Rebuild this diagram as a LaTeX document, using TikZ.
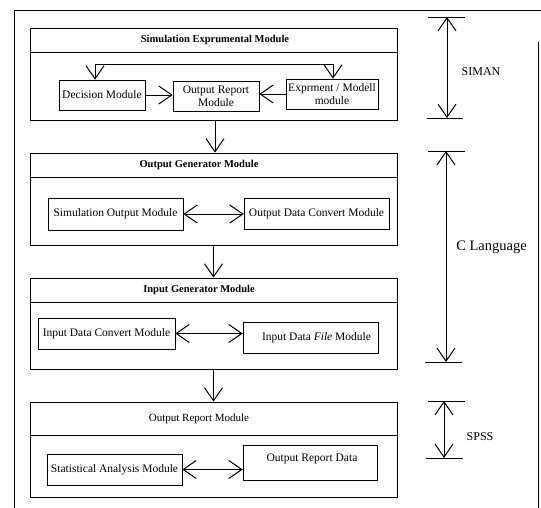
\documentclass[tikz,border=0pt]{standalone}
\usepackage{fontspec}
\setmainfont{Liberation Serif}
\usetikzlibrary{arrows.meta}
\tikzset{
  modbox/.style={draw, line width=0.8pt, minimum width=367pt, inner sep=0pt},
  ibox/.style={draw, line width=0.7pt, inner sep=0pt, align=center, font=\fontsize{11.5}{13}\selectfont},
  ttl/.style={inner sep=0pt, font=\fontsize{10.5}{12}\selectfont\bfseries},
  ttlr/.style={inner sep=0pt, font=\fontsize{11}{12}\selectfont},
  lbl/.style={inner sep=0pt, font=\fontsize{12}{14}\selectfont},
  tip/.tip={Straight Barb[length=13pt,width=18pt,line width=1pt]},
  arr/.style={line width=0.7pt, -tip},
  darr/.style={line width=0.7pt, tip-tip},
  bar/.style={line width=0.8pt},
  frame/.style={line width=0.7pt}
}
\begin{document}
\begin{tikzpicture}[x=1pt,y=-1pt]
\useasboundingbox (0,0) rectangle (541,508);
% outer frame
\coordinate (f1) at (14,508);
\coordinate (f2) at (14,10);
\coordinate (f3) at (541,10);
\coordinate (f4) at (538,42);
\coordinate (f5) at (538,508);
\draw[frame] (f1) -- (f2) -- (f3);
\draw[frame] (f4) -- (f5);

% ---- Module 1
\node[modbox, minimum height=92pt] (m1) at (213.5,74) {};
\draw[line width=0.8pt] (m1.west |- 0,52) -- (m1.east |- 0,52);
\node[ttl] (t1) at (215,40) {Simulation Exprumental Module};
\node[ibox, minimum width=86pt, minimum height=30pt] (dec) at (102,95) {Decision Module};
\node[ibox, minimum width=86pt, minimum height=30pt] (orm) at (216,96) {Output Report\\Module};
\node[ibox, minimum width=92pt, minimum height=30pt] (exp) at (332,94) {Exprment / Modell\\module};
\draw[arr] (dec.east) -- (dec.east -| orm.west);
\draw[arr] (exp.west) -- (exp.west -| orm.east);
\coordinate (fbl) at (95,64);
\coordinate (fbr) at (333,64);
\draw[darr] ([xshift=-7pt]dec.north) -- (fbl) -- (fbr) -- (fbr |- exp.north);

% ---- Module 2
\node[modbox, minimum height=92pt] (m2) at (213.5,199) {};
\draw[line width=0.8pt] (m2.west |- 0,177) -- (m2.east |- 0,177);
\node[ttl] (t2) at (199,165) {Output Generator Module};
\node[ibox, minimum width=135pt, minimum height=32pt] (so) at (115.5,214) {Simulation Output Module};
\node[ibox, minimum width=145pt, minimum height=31pt] (odc) at (316.5,213.5) {Output Data Convert Module};
\draw[darr] (so.east) -- (so.east -| odc.west);

% ---- Module 3
\node[modbox, minimum height=91pt] (m3) at (213.5,323.5) {};
\draw[line width=0.8pt] (m3.west |- 0,302) -- (m3.east |- 0,302);
\node[ttl] (t3) at (199,290) {Input Generator Module};
\node[ibox, minimum width=137pt, minimum height=31pt] (idc) at (106.5,333.5) {Input Data Convert Module};
\node[ibox, minimum width=135pt, minimum height=31pt] (idf) at (310.5,337.5) {\hspace*{12pt}Input Data \textit{File} Module};
\draw[darr] (idc.east) -- (idc.east -| idf.west);

% ---- Module 4
\node[modbox, minimum height=95pt] (m4) at (213.5,449.5) {};
\draw[line width=0.8pt] (m4.west |- 0,435) -- (m4.east |- 0,435);
\node[ttlr] (t4) at (199,418.5) {Output Report Module};
\node[ibox, minimum width=135pt, minimum height=31pt] (sam) at (114.5,469.5) {Statistical Analysis Module};
\node[ibox, minimum width=134pt, minimum height=35pt, text depth=9pt] (ord) at (310,462.5) {\hspace*{4pt}Output Report Data};
\draw[darr] (sam.east) -- (sam.east -| ord.west);

% ---- connectors between modules
\draw[arr] ([xshift=1.5pt]m1.south) -- ([xshift=1.5pt]m2.north);
\draw[arr] (m2.south) -- (m2.north |- m3.north);
\draw[arr] (m3.south) -- (m3.north |- m4.north);

% ---- right dimension markers
% SIMAN
\coordinate (s1a) at (428,17); \coordinate (s1b) at (465,17);
\coordinate (s2a) at (427,118); \coordinate (s2b) at (463,118);
\draw[bar] (s1a) -- (s1b);
\draw[bar] (s2a) -- (s2b);
\coordinate (sv1) at (447,17); \coordinate (sv2) at (447,118);
\draw[darr] (sv1) -- (sv2);
\node[lbl] (siman) at (481,72) {SIMAN};
% C Language
\coordinate (c1a) at (428,151); \coordinate (c1b) at (465,151);
\coordinate (c2a) at (425,362); \coordinate (c2b) at (462,362);
\draw[bar] (c1a) -- (c1b);
\draw[bar] (c2a) -- (c2b);
\coordinate (cv1) at (446,151); \coordinate (cv2) at (446,362);
\draw[darr] (cv1) -- (cv2);
\node[lbl, font=\fontsize{14.5}{16}\selectfont] (clang) at (491.5,247) {C Language};
% SPSS
\coordinate (p1a) at (428,401); \coordinate (p1b) at (465,401);
\coordinate (p2a) at (426,458); \coordinate (p2b) at (463,458);
\draw[bar] (p1a) -- (p1b);
\draw[bar] (p2a) -- (p2b);
\coordinate (pv1) at (444,401); \coordinate (pv2) at (444,458);
\draw[darr] (pv1) -- (pv2);
\node[lbl] (spss) at (480,437) {SPSS};
\end{tikzpicture}
\end{document}
